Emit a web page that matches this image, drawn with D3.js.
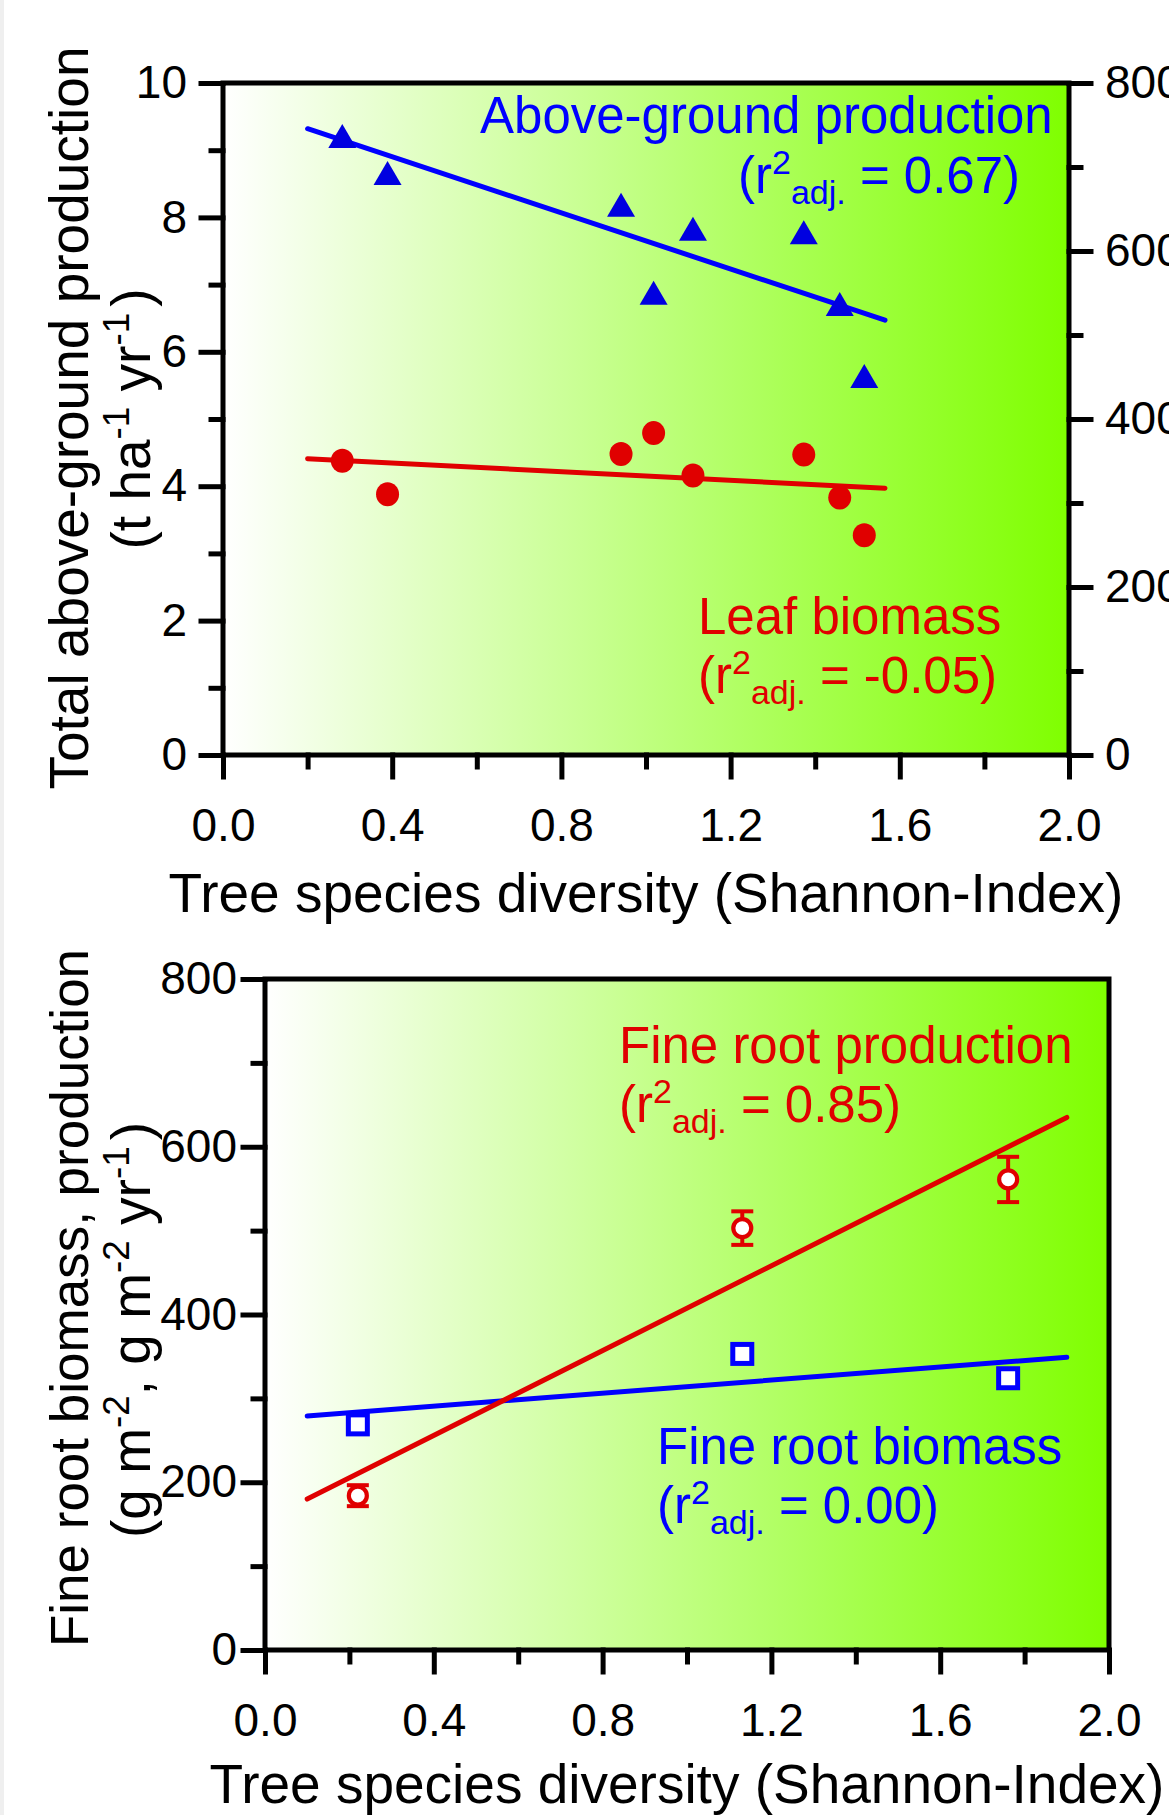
<!DOCTYPE html>
<html>
<head>
<meta charset="utf-8">
<script src="https://cdn.jsdelivr.net/npm/d3@7"></script>
<style>
  html, body { margin: 0; padding: 0; background: #fff; }
  svg { display: block; }
  text { font-family: "Liberation Sans", Arial, Helvetica, sans-serif; }
</style>
</head>
<body>
<svg id="chart" width="1169" height="1815"></svg>
<script>
// ---------------- DATA ----------------
// Top panel: above-ground production & leaf biomass vs Shannon index
const topDiversity   = [0.282, 0.389, 0.941, 1.018, 1.111, 1.373, 1.458, 1.516];
const abovegroundProd = [9.21, 8.66, 8.19, 6.88, 7.83, 7.78, 6.71, 5.64];
const leafBiomass     = [4.38, 3.88, 4.48, 4.79, 4.16, 4.47, 3.83, 3.27];
const topFitX    = [0.2, 1.565];
const agpFitY    = [9.32, 6.47];
const leafFitY   = [4.41, 3.97];

// Bottom panel: fine roots vs Shannon index
const rootDiversity  = [0.22, 1.131, 1.761];
const fineRootProd   = [184, 503, 561];
const fineRootProdSE = [12.5, 20, 27];
const fineRootBio    = [269, 353, 324];
const rootFitX   = [0.1, 1.9];
const prodFitY   = [180, 635];
const bioFitY    = [279, 349];

// Tick values
const xMajor = [0, 0.4, 0.8, 1.2, 1.6, 2.0];
const xMinor = [0.2, 0.6, 1.0, 1.4, 1.8];
const topLeftMajor = [0, 2, 4, 6, 8, 10];
const topLeftMinor = [1, 3, 5, 7, 9];
const topRightMajor = [0, 200, 400, 600, 800];
const topRightMinor = [100, 300, 500, 700];
const botMajor = [0, 200, 400, 600, 800];
const botMinor = [100, 300, 500, 700];

// ---------------- STYLE ----------------
const BLUE = "#0000ff", RED = "#e00000";
const AXW = 5, MAJ = 22, MIN = 12, FITW = 5;
const TICKFS = 46, TITLEFS = 55, ANNFS = 51, SMALLFS = 34;

const svg = d3.select("#chart");
svg.append("rect").attr("x", 0).attr("y", 0).attr("width", 4).attr("height", 1815).attr("fill", "#efefef");

const defs = svg.append("defs");
const grad = defs.append("linearGradient").attr("id", "bg").attr("x1", "0").attr("x2", "1").attr("y1", "0").attr("y2", "0");
grad.append("stop").attr("offset", "0").attr("stop-color", "#ffffff");
grad.append("stop").attr("offset", "1").attr("stop-color", "#7fff00");

function styleAxis(g) {
  g.selectAll(".domain").remove();
  g.selectAll(".tick line").attr("stroke", "#000").attr("stroke-width", AXW).attr("stroke-linecap", "square");
  g.selectAll(".tick text").attr("fill", "#000").attr("font-size", TICKFS)
    .attr("font-family", '"Liberation Sans", Arial, sans-serif');
}

function panel(box) {
  const g = svg.append("g");
  g.append("rect").attr("x", box.l).attr("y", box.t).attr("width", box.r - box.l).attr("height", box.b - box.t)
    .attr("fill", "url(#bg)");
  return g;
}

function frame(g, box) {
  g.append("rect").attr("x", box.l).attr("y", box.t).attr("width", box.r - box.l).attr("height", box.b - box.t)
    .attr("fill", "none").attr("stroke", "#000").attr("stroke-width", AXW);
}

function rLabel(g, x, y, color, value) {
  const t = g.append("text").attr("x", x).attr("y", y).attr("fill", color).attr("font-size", ANNFS);
  t.append("tspan").text("(r");
  t.append("tspan").attr("font-size", SMALLFS).attr("dy", -19).text("2");
  t.append("tspan").attr("font-size", SMALLFS).attr("dy", 30).text("adj.");
  t.append("tspan").attr("dy", -11).text(" = " + value + ")");
  return t;
}

function supText(g, parts, fs) {
  const t = g.append("text").attr("font-size", fs).attr("text-anchor", "middle").attr("fill", "#000");
  let raised = false;
  parts.forEach(p => {
    const ts = t.append("tspan").text(p[0]);
    if (p[1] && !raised) { ts.attr("dy", -0.38 * fs).attr("font-size", fs * 0.67); raised = true; }
    else if (p[1]) { ts.attr("font-size", fs * 0.67); }
    else if (raised) { ts.attr("dy", 0.38 * fs); raised = false; }
    if (p[2]) ts.attr("dx", p[2]);
  });
  return t;
}

const fmt1 = d3.format(".1f");

// ================= TOP PANEL =================
const B1 = { l: 223, r: 1069, t: 83, b: 755 };
const x1 = d3.scaleLinear().domain([0, 2]).range([B1.l, B1.r]);
const y1 = d3.scaleLinear().domain([0, 10]).range([B1.b, B1.t]);
const y1r = d3.scaleLinear().domain([0, 800]).range([B1.b, B1.t]);
const g1 = panel(B1);

const line1 = d3.line().x(d => x1(d[0])).y(d => y1(d[1]));
g1.append("path").datum(d3.zip(topFitX, agpFitY)).attr("d", line1)
  .attr("stroke", BLUE).attr("stroke-width", FITW).attr("fill", "none").attr("stroke-linecap", "round");
g1.append("path").datum(d3.zip(topFitX, leafFitY)).attr("d", line1)
  .attr("stroke", RED).attr("stroke-width", FITW).attr("fill", "none").attr("stroke-linecap", "round");

const triS = 28, triH = 24;
const triPath = `M0,${-triH / 2}L${triS / 2},${triH / 2}L${-triS / 2},${triH / 2}Z`;
g1.selectAll(".tri").data(d3.zip(topDiversity, abovegroundProd)).join("path")
  .attr("d", triPath).attr("transform", d => `translate(${x1(d[0])},${y1(d[1])})`)
  .attr("fill", "#0000e0");
g1.selectAll(".dot").data(d3.zip(topDiversity, leafBiomass)).join("ellipse")
  .attr("cx", d => x1(d[0])).attr("cy", d => y1(d[1])).attr("rx", 11.5).attr("ry", 12)
  .attr("fill", "#e00000");

frame(g1, B1);

g1.append("g").attr("transform", `translate(0,${B1.b})`)
  .call(d3.axisBottom(x1).tickValues(xMajor).tickFormat(fmt1).tickSize(MAJ).tickSizeOuter(0).tickPadding(31))
  .call(styleAxis);
g1.append("g").attr("transform", `translate(0,${B1.b})`)
  .call(d3.axisBottom(x1).tickValues(xMinor).tickFormat("").tickSize(MIN).tickSizeOuter(0)).call(styleAxis);
g1.append("g").attr("transform", `translate(${B1.l},0)`)
  .call(d3.axisLeft(y1).tickValues(topLeftMajor).tickFormat(d3.format("d")).tickSize(MAJ).tickSizeOuter(0).tickPadding(14))
  .call(styleAxis);
g1.append("g").attr("transform", `translate(${B1.l},0)`)
  .call(d3.axisLeft(y1).tickValues(topLeftMinor).tickFormat("").tickSize(MIN).tickSizeOuter(0)).call(styleAxis);
g1.append("g").attr("transform", `translate(${B1.r},0)`)
  .call(d3.axisRight(y1r).tickValues(topRightMajor).tickFormat(d3.format("d")).tickSize(MAJ).tickSizeOuter(0).tickPadding(14))
  .call(styleAxis);
g1.append("g").attr("transform", `translate(${B1.r},0)`)
  .call(d3.axisRight(y1r).tickValues(topRightMinor).tickFormat("").tickSize(MIN).tickSizeOuter(0)).call(styleAxis);

g1.append("text").attr("x", (B1.l + B1.r) / 2).attr("y", 912).attr("text-anchor", "middle")
  .attr("font-size", TITLEFS).attr("fill", "#000").text("Tree species diversity (Shannon-Index)");
g1.append("text").attr("transform", "translate(88,418) rotate(-90)").attr("text-anchor", "middle")
  .attr("font-size", TITLEFS).attr("fill", "#000").text("Total above-ground production");
supText(g1, [["(t ha"], ["-1", true], [" yr"], ["-1", true], [")", false, 6]], TITLEFS)
  .attr("transform", "translate(150,419) rotate(-90)");

g1.append("text").attr("x", 480).attr("y", 133).attr("fill", BLUE).attr("font-size", ANNFS).text("Above-ground production");
rLabel(g1, 738, 193, BLUE, "0.67");
g1.append("text").attr("x", 698).attr("y", 634).attr("fill", RED).attr("font-size", ANNFS).text("Leaf biomass");
rLabel(g1, 698, 693, RED, "-0.05");

// ================= BOTTOM PANEL =================
const B2 = { l: 265, r: 1109, t: 979, b: 1650 };
const x2 = d3.scaleLinear().domain([0, 2]).range([B2.l, B2.r]);
const y2 = d3.scaleLinear().domain([0, 800]).range([B2.b, B2.t]);
const g2 = panel(B2);

const line2 = d3.line().x(d => x2(d[0])).y(d => y2(d[1]));
g2.append("path").datum(d3.zip(rootFitX, bioFitY)).attr("d", line2)
  .attr("stroke", BLUE).attr("stroke-width", FITW).attr("fill", "none").attr("stroke-linecap", "round");
g2.append("path").datum(d3.zip(rootFitX, prodFitY)).attr("d", line2)
  .attr("stroke", RED).attr("stroke-width", FITW).attr("fill", "none").attr("stroke-linecap", "round");

const prodData = rootDiversity.map((x, i) => ({ x, y: fineRootProd[i], e: fineRootProdSE[i] }));
const eb = g2.selectAll(".eb").data(prodData).join("g").attr("stroke", RED).attr("stroke-width", 4);
eb.append("line").attr("x1", d => x2(d.x)).attr("x2", d => x2(d.x)).attr("y1", d => y2(d.y + d.e)).attr("y2", d => y2(d.y - d.e));
eb.append("line").attr("x1", d => x2(d.x) - 11).attr("x2", d => x2(d.x) + 11).attr("y1", d => y2(d.y + d.e)).attr("y2", d => y2(d.y + d.e));
eb.append("line").attr("x1", d => x2(d.x) - 11).attr("x2", d => x2(d.x) + 11).attr("y1", d => y2(d.y - d.e)).attr("y2", d => y2(d.y - d.e));

g2.selectAll(".oc").data(prodData).join("circle")
  .attr("cx", d => x2(d.x)).attr("cy", d => y2(d.y)).attr("r", 9)
  .attr("fill", "#fff").attr("stroke", RED).attr("stroke-width", 4.2);

g2.selectAll(".sq").data(d3.zip(rootDiversity, fineRootBio)).join("rect")
  .attr("x", d => x2(d[0]) - 9.5).attr("y", d => y2(d[1]) - 9.5).attr("width", 19).attr("height", 19)
  .attr("fill", "#fff").attr("stroke", BLUE).attr("stroke-width", 5);

frame(g2, B2);

g2.append("g").attr("transform", `translate(0,${B2.b})`)
  .call(d3.axisBottom(x2).tickValues(xMajor).tickFormat(fmt1).tickSize(MAJ).tickSizeOuter(0).tickPadding(31))
  .call(styleAxis);
g2.append("g").attr("transform", `translate(0,${B2.b})`)
  .call(d3.axisBottom(x2).tickValues(xMinor).tickFormat("").tickSize(MIN).tickSizeOuter(0)).call(styleAxis);
g2.append("g").attr("transform", `translate(${B2.l},0)`)
  .call(d3.axisLeft(y2).tickValues(botMajor).tickFormat(d3.format("d")).tickSize(MAJ).tickSizeOuter(0).tickPadding(6))
  .call(styleAxis);
g2.append("g").attr("transform", `translate(${B2.l},0)`)
  .call(d3.axisLeft(y2).tickValues(botMinor).tickFormat("").tickSize(MIN).tickSizeOuter(0)).call(styleAxis);

g2.append("text").attr("x", (B2.l + B2.r) / 2).attr("y", 1803).attr("text-anchor", "middle")
  .attr("font-size", TITLEFS).attr("fill", "#000").text("Tree species diversity (Shannon-Index)");
g2.append("text").attr("transform", "translate(88,1298) rotate(-90)").attr("text-anchor", "middle")
  .attr("font-size", 53).attr("fill", "#000").text("Fine root biomass, production");
supText(g2, [["(g m"], ["-2", true], [", g m"], ["-2", true], [" yr"], ["-1", true], [")", false, 6]], TITLEFS)
  .attr("transform", "translate(150,1330) rotate(-90)");

g2.append("text").attr("x", 619).attr("y", 1063).attr("fill", RED).attr("font-size", ANNFS).text("Fine root production");
rLabel(g2, 619, 1122, RED, "0.85");
g2.append("text").attr("x", 657).attr("y", 1464).attr("fill", BLUE).attr("font-size", ANNFS).text("Fine root biomass");
rLabel(g2, 657, 1523, BLUE, "0.00");
</script>
</body>
</html>
